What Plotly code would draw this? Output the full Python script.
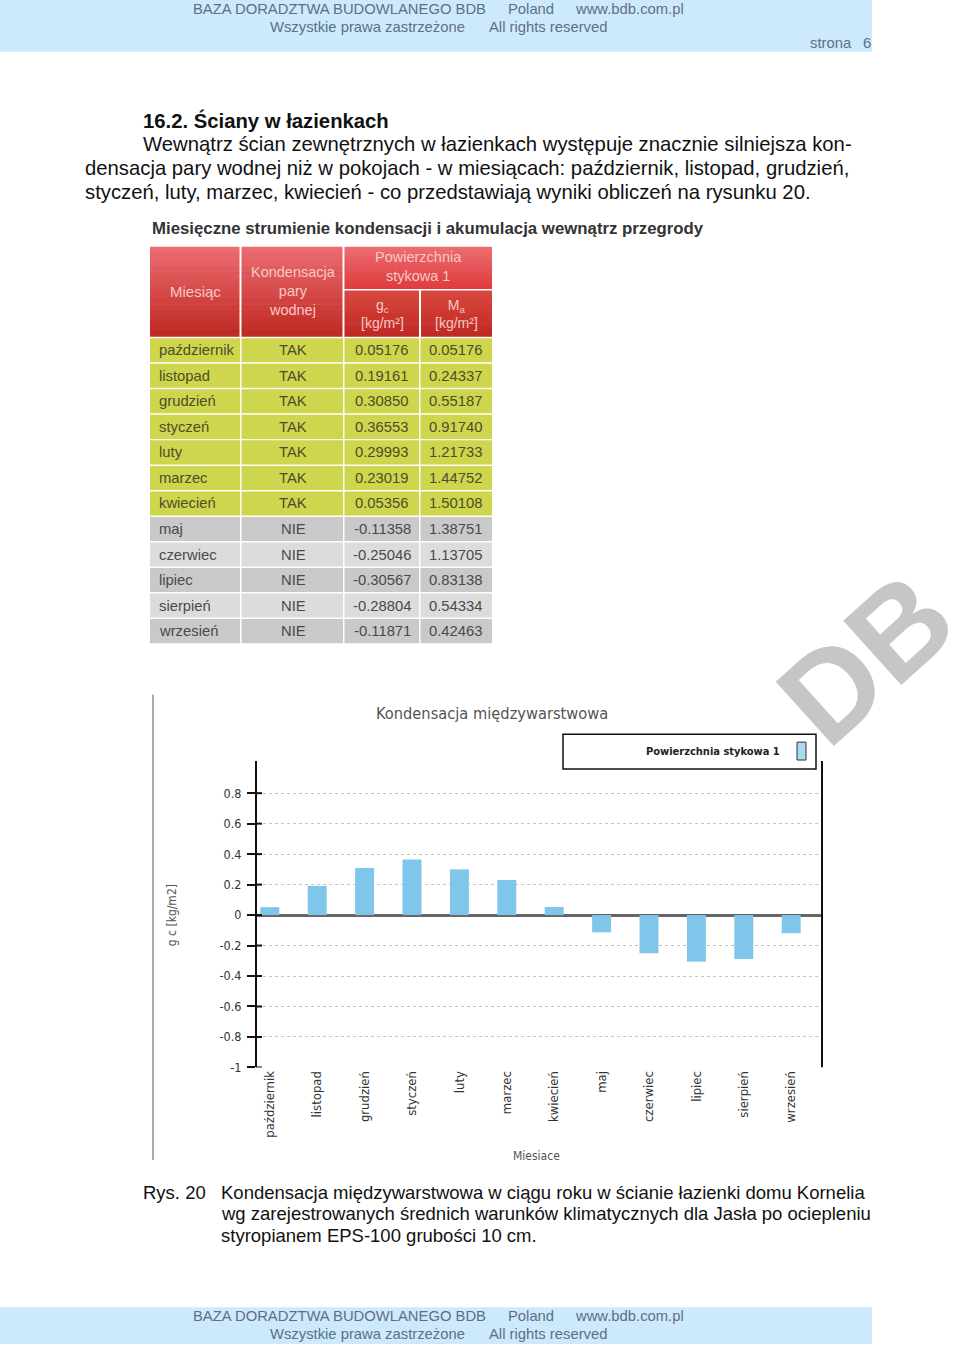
import plotly.graph_objects as go

# ---------------- data ----------------
months = ["październik", "listopad", "grudzień", "styczeń", "luty", "marzec",
          "kwiecień", "maj", "czerwiec", "lipiec", "sierpień", "wrzesień"]
kondensacja = ["TAK", "TAK", "TAK", "TAK", "TAK", "TAK", "TAK",
               "NIE", "NIE", "NIE", "NIE", "NIE"]
gc_values = [0.05176, 0.19161, 0.30850, 0.36553, 0.29993, 0.23019, 0.05356,
             -0.11358, -0.25046, -0.30567, -0.28804, -0.11871]
ma_values = [0.05176, 0.24337, 0.55187, 0.91740, 1.21733, 1.44752, 1.50108,
             1.38751, 1.13705, 0.83138, 0.54334, 0.42463]
y_tick_vals = [0.8, 0.6, 0.4, 0.2, 0, -0.2, -0.4, -0.6, -0.8, -1]
y_tick_text = ["0.8", "0.6", "0.4", "0.2", "0", "-0.2", "-0.4", "-0.6", "-0.8", "-1"]

W, H = 960, 1351


def X(px):
    return px / W


def Y(py):
    return 1 - py / H


shapes = []
annots = []

SANS = "Liberation Sans, Arial, sans-serif"
COND = "DejaVu Sans Condensed, DejaVu Sans, sans-serif"


def rect(x0, y0, x1, y1, fill, line_color=None, lw=0, layer="below"):
    shapes.append(dict(type="rect", xref="paper", yref="paper",
                       x0=X(x0), x1=X(x1), y0=Y(y1), y1=Y(y0),
                       fillcolor=fill, layer=layer,
                       line=dict(color=line_color or fill, width=lw)))


def text(x, y, s, size=14, color="#333", family=SANS, xanchor="left",
         yanchor="middle", angle=0, **kw):
    annots.append(dict(xref="paper", yref="paper", x=X(x), y=Y(y), text=s,
                       showarrow=False, xanchor=xanchor, yanchor=yanchor,
                       textangle=angle,
                       font=dict(size=size, color=color, family=family), **kw))


# ---------------- header / footer bands ----------------
BAND = "#cdeafc"
BAND_TXT = "#5d6f86"
rect(0, 0, 872, 52, BAND)
rect(0, 1314, 872, 1351, BAND)
for yy in (9, 1323):
    text(191, yy, "BAZA DORADZTWA BUDOWLANEGO BDB", 14.8, BAND_TXT)
    text(506, yy, "Poland", 14.8, BAND_TXT)
    text(573, yy, "www.bdb.com.pl", 14.8, BAND_TXT)
for yy in (27, 1341):
    text(268, yy, "Wszystkie prawa zastrzeżone", 14.8, BAND_TXT)
    text(487, yy, "All rights reserved", 14.8, BAND_TXT)
text(808, 43, "strona", 14.8, BAND_TXT)
text(861, 43, "6", 14.8, BAND_TXT)

# ---------------- body text ----------------
text(141, 121, "<b>16.2. Ściany w łazienkach</b>", 20.3, "#111")
text(141, 145, "Wewnątrz ścian zewnętrznych w łazienkach występuje znacznie silniejsza kon-", 20.3, "#111")
text(83, 169, "densacja pary wodnej niż w pokojach - w miesiącach: październik, listopad, grudzień,", 20.3, "#111")
text(83, 193, "styczeń, luty, marzec, kwiecień - co przedstawiają wyniki obliczeń na rysunku 20.", 20.3, "#111")

# ---------------- table ----------------
text(150, 230, "<b>Miesięczne strumienie kondensacji i akumulacja wewnątrz przegrody</b>",
     16.8, "#333")

cols = [150, 241, 344, 420, 492]


def grad_rect(x0, y0, x1, y1, c_top, c_bot, n=14):
    h = (y1 - y0) / n
    for i in range(n):
        t = i / (n - 1)
        c = tuple(int(c_top[k] + (c_bot[k] - c_top[k]) * t) for k in range(3))
        rect(x0, y0 + i * h, x1, y0 + (i + 1) * h + 0.6,
             "rgb(%d,%d,%d)" % c)


RED_TOP = (236, 108, 112)
RED_MID = (224, 62, 64)
RED_BOT = (192, 42, 36)
grad_rect(cols[0], 248, cols[1] - 1.5, 338, RED_TOP, RED_BOT)
grad_rect(cols[1] + 0.5, 248, cols[2] - 1.5, 338, RED_TOP, RED_BOT)
grad_rect(cols[2] + 0.5, 248, cols[4], 290, RED_TOP, RED_MID)
grad_rect(cols[2] + 0.5, 292, cols[3] - 1, 338, (216, 72, 62), RED_BOT)
grad_rect(cols[3] + 1, 292, cols[4], 338, (216, 72, 62), RED_BOT)

HTXT = "#f6c9c6"
text(195, 293, "Miesiąc", 15, HTXT, xanchor="center")
text(293, 293, "Kondensacja<br>pary<br>wodnej", 14.5, HTXT, xanchor="center")
text(418, 268, "Powierzchnia<br>stykowa 1", 14.5, HTXT, xanchor="center")
text(382, 316, "g<sub>c</sub><br>[kg/m²]", 14, HTXT, xanchor="center")
text(456, 316, "M<sub>a</sub><br>[kg/m²]", 14, HTXT, xanchor="center")

row_top = 340
row_h = (648 - 340) / len(months)
YEL = "#cdd64c"
GRAY_A = "#c9c9c9"
GRAY_B = "#dcdcdc"
for i, m in enumerate(months):
    y0 = row_top + i * row_h
    y1 = y0 + row_h - 1.5
    if kondensacja[i] == "TAK":
        fill = YEL
        tc = "#4d4d2a"
    else:
        fill = GRAY_A if (i - 7) % 2 == 0 else GRAY_B
        tc = "#4a4a4a"
    for c in range(4):
        rect(cols[c] + (0 if c == 0 else 0.5), y0, cols[c + 1] - (1 if c < 3 else 0), y1, fill)
    yc = (y0 + y1) / 2
    text(157, yc, m, 14.8, tc)
    text(293, yc, kondensacja[i], 14.8, tc, xanchor="center")
    text(382, yc, f"{gc_values[i]:.5f}", 14.8, tc, xanchor="center")
    text(456, yc, f"{ma_values[i]:.5f}", 14.8, tc, xanchor="center")

# ---------------- chart decorations ----------------
shapes.append(dict(type="line", xref="paper", yref="paper", x0=X(153), x1=X(153),
                   y0=Y(698), y1=Y(1166), line=dict(color="#aaaaaa", width=2)))
text(492, 717, "Kondensacja międzywarstwowa", 16.3, "#555", COND, xanchor="center")

# legend box (symbol to the right of the text)
rect(563, 738, 816, 773, "white", "#111", 1.5, layer="above")
text(782, 755, "<b>Powierzchnia stykowa 1</b>", 11, "#222", COND, xanchor="right")
rect(797, 746, 806, 764, "#a9d8ef", "#333", 1, layer="above")

# right border of the plot area
shapes.append(dict(type="line", xref="paper", yref="y", x0=X(822), x1=X(822),
                   y0=-1, y1=1.011, line=dict(color="#111", width=2)))
# tick marks crossing into the plot area
for v in y_tick_vals:
    shapes.append(dict(type="line", xref="paper", yref="y", x0=X(256), x1=X(262),
                       y0=v, y1=v, line=dict(color="#111", width=2)))

text(172, 920, "g c [kg/m2]", 12, "#555", COND, xanchor="center", angle=-90)
text(536, 1162, "Miesiace", 12, "#555", COND, xanchor="center")

# caption
text(141, 1199, "Rys. 20", 18.5, "#111")
text(219, 1199, "Kondensacja międzywarstwowa w ciągu roku w ścianie łazienki domu Kornelia", 18.5, "#111")
text(219, 1220, "wg zarejestrowanych średnich warunków klimatycznych dla Jasła po ociepleniu", 18.5, "#111")
text(219, 1242, "styropianem EPS-100 grubości 10 cm.", 18.5, "#111")

# watermark
annots.append(dict(xref="paper", yref="paper", x=X(866), y=Y(662), text="<b>DB</b>",
                   showarrow=False, xanchor="center", yanchor="middle", textangle=-42,
                   font=dict(size=126, color="rgba(192,192,192,0.9)", family=SANS)))

# ---------------- bar chart ----------------
fig = go.Figure()
fig.add_trace(go.Bar(x=months, y=gc_values, marker=dict(color="#7fc6ea", line=dict(width=0)),
                     width=0.4, name="Powierzchnia stykowa 1", showlegend=False,
                     hovertemplate="%{x}: %{y:.5f}<extra></extra>"))

fig.update_layout(
    width=W, height=H,
    margin=dict(l=0, r=0, t=0, b=0),
    paper_bgcolor="white", plot_bgcolor="white",
    showlegend=False,
    shapes=shapes, annotations=annots,
    xaxis=dict(domain=[X(257), X(822)], range=[-0.27, 11.65], type="category",
               tickangle=-90, tickfont=dict(size=13, color="#333", family=COND),
               showgrid=False, showline=False, zeroline=False, ticks="",
               fixedrange=True),
    yaxis=dict(domain=[Y(1073), Y(765)], range=[-1, 1.011],
               tickvals=y_tick_vals, ticktext=y_tick_text,
               tickfont=dict(size=12.5, color="#333", family=COND),
               ticks="outside", ticklen=8, tickwidth=2, tickcolor="#111",
               ticklabelstandoff=3,
               showline=True, linecolor="#111", linewidth=2,
               showgrid=True, gridcolor="#c4c4c4", griddash="dot", gridwidth=1,
               zeroline=True, zerolinecolor="#666", zerolinewidth=3,
               fixedrange=True),
)

fig.write_html(
    "out.html",
    config={"displayModeBar": False},
    post_script="document.documentElement.style.margin='0';"
                "document.body.style.margin='0';"
                "document.body.style.padding='0';"
                "document.body.style.overflow='hidden';",
)
